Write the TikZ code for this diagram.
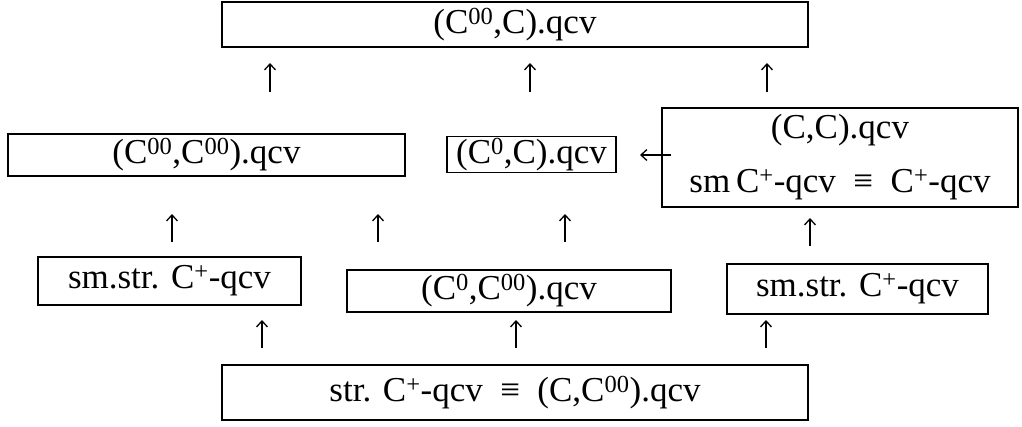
\documentclass[tikz,border=0pt]{standalone}
\usepackage{fontspec}
\setmainfont{Liberation Serif}
\usetikzlibrary{arrows.meta}
\newcommand{\sps}[1]{\textsuperscript{#1}}
\newcommand{\eqv}{\enspace≡\enspace}
\begin{document}
\begin{tikzpicture}[x=1pt,y=-1pt,
  every node/.style={font=\fontsize{35}{42}\selectfont},
  box/.style={draw, line width=1.4pt, inner sep=0pt, anchor=center, align=center},
  uparr/.style={line width=1.3pt, -{Straight Barb[length=6pt,width=11pt,line width=1.3pt]}}
]
\useasboundingbox (0,0) rectangle (1022,426);

% boxes
\node[box, minimum width=586, minimum height=45] (top) at (515,24.5) {(C\sps{00},C).qcv};
\node[box, minimum width=397, minimum height=42] (cc) at (206.5,155) {(C\sps{00},C\sps{00}).qcv};
\node[box, minimum width=169, minimum height=36] (zc) at (531.5,154.5) {(C\sps{0},C).qcv};
\node[box, minimum width=356, minimum height=99, font=\fontsize{35}{54}\selectfont] (ccq) at (840,157.5)
  {(C,C).qcv\\ sm\,C\sps{+}-qcv\eqv C\sps{+}-qcv};
\node[box, minimum width=263, minimum height=48] (ss1) at (169.5,281) {sm.str. C\sps{+}-qcv};
\node[box, minimum width=324, minimum height=42] (zcc) at (509,291) {(C\sps{0},C\sps{00}).qcv};
\node[box, minimum width=261, minimum height=50] (ss2) at (857.5,289) {sm.str. C\sps{+}-qcv};
\node[box, minimum width=586, minimum height=55] (str) at (515,392.5) {str. C\sps{+}-qcv\eqv(C,C\sps{00}).qcv};

% arrow end points
\coordinate (r1a) at (270,92);  \coordinate (r1b) at (270,63);
\coordinate (r1c) at (530,92);  \coordinate (r1d) at (530,63);
\coordinate (r1e) at (767,92);  \coordinate (r1f) at (767,63);
\coordinate (r2a) at (172,242); \coordinate (r2b) at (172,214);
\coordinate (r2c) at (378,242); \coordinate (r2d) at (378,214);
\coordinate (r2e) at (565,242); \coordinate (r2f) at (565,214);
\coordinate (r2g) at (810,246); \coordinate (r2h) at (810,218);
\coordinate (r3a) at (262,348); \coordinate (r3b) at (262,320);
\coordinate (r3c) at (516,348); \coordinate (r3d) at (516,320);
\coordinate (r3e) at (766,348); \coordinate (r3f) at (766,320);
\coordinate (la) at (671,155);  \coordinate (lb) at (640,155);

\draw[uparr] (r1a) -- (r1b);
\draw[uparr] (r1c) -- (r1d);
\draw[uparr] (r1e) -- (r1f);
\draw[uparr] (r2a) -- (r2b);
\draw[uparr] (r2c) -- (r2d);
\draw[uparr] (r2e) -- (r2f);
\draw[uparr] (r2g) -- (r2h);
\draw[uparr] (r3a) -- (r3b);
\draw[uparr] (r3c) -- (r3d);
\draw[uparr] (r3e) -- (r3f);
\draw[uparr] (la) -- (lb);
\end{tikzpicture}
\end{document}
